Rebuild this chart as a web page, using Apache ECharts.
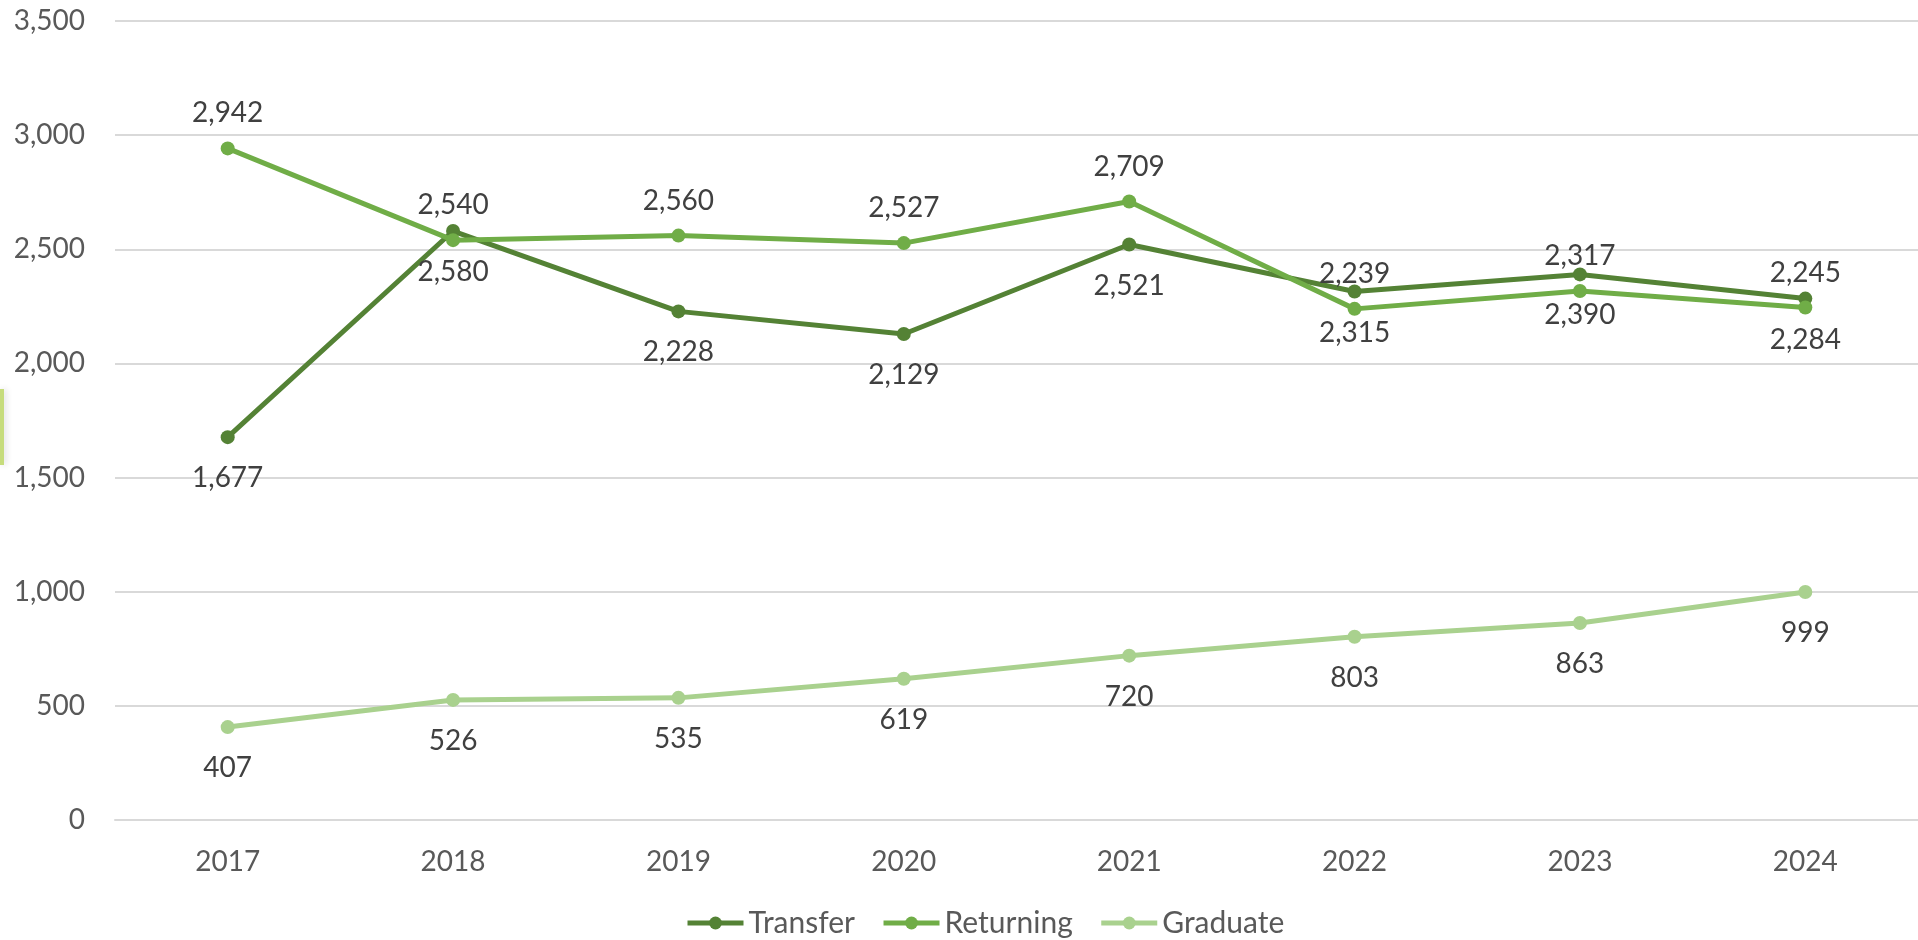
<!DOCTYPE html>
<html>
<head>
<meta charset="utf-8">
<script src="https://cdn.jsdelivr.net/npm/echarts@6/dist/echarts.min.js"></script>
<style>
html,body{margin:0;padding:0;background:#fff;}
#chart{width:1918px;height:940px;}
</style>
</head>
<body>
<div id="chart"></div>
<script>
const years = ['2017','2018','2019','2020','2021','2022','2023','2024'];
const transfer = [1677, 2580, 2228, 2129, 2521, 2315, 2390, 2284];
const returning = [2942, 2540, 2560, 2527, 2709, 2239, 2317, 2245];
const graduate = [407, 526, 535, 619, 720, 803, 863, 999];
const yTicks = {min: 0, max: 3500, interval: 500};

const FONT = 'Lato';
const fmt = v => Number(v).toLocaleString('en-US');

function makeSeries(name, data, color, pos, dist) {
  return {
    name: name,
    type: 'line',
    data: data,
    symbol: 'circle',
    symbolSize: 14,
    lineStyle: {color: color, width: 5},
    itemStyle: {color: color},
    label: {
      show: true,
      position: pos,
      distance: dist,
      color: '#404040',
      fontFamily: FONT,
      fontSize: 28,
      formatter: p => fmt(p.value)
    },
    emphasis: {disabled: true},
    animation: false
  };
}

const chart = echarts.init(document.getElementById('chart'));
chart.setOption({
  backgroundColor: '#ffffff',
  animation: false,
  grid: {left: 115, top: 21, width: 1820, height: 799, containLabel: false},
  legend: {
    left: 680,
    top: 903,
    itemWidth: 56,
    itemHeight: 16,
    itemGap: 26,
    lineStyle: {width: 5},
    textStyle: {color: '#595959', fontFamily: FONT, fontSize: 30},
    data: ['Transfer', 'Returning', 'Graduate']
  },
  xAxis: {
    type: 'category',
    data: years,
    boundaryGap: true,
    axisLine: {show: true, lineStyle: {color: '#d9d9d9', width: 2}},
    axisTick: {show: false},
    axisLabel: {color: '#595959', fontFamily: FONT, fontSize: 28, margin: 28},
    splitLine: {show: false}
  },
  yAxis: {
    type: 'value',
    min: yTicks.min,
    max: yTicks.max,
    interval: yTicks.interval,
    axisLine: {show: false},
    axisTick: {show: false},
    axisLabel: {color: '#595959', fontFamily: FONT, fontSize: 28, margin: 30, formatter: v => fmt(v)},
    splitLine: {show: true, lineStyle: {color: '#d9d9d9', width: 2}}
  },
  graphic: [{
    type: 'rect',
    shape: {x: 0, y: 389, width: 4, height: 76},
    style: {fill: '#c6dc7c', shadowBlur: 6, shadowColor: 'rgba(0,0,0,0.15)', shadowOffsetX: 2},
    silent: true
  }],
  series: [
    makeSeries('Transfer', transfer, '#548235', 'bottom', 20),
    makeSeries('Returning', returning, '#70AD47', 'top', 14),
    makeSeries('Graduate', graduate, '#A9D18E', 'bottom', 20)
  ]
});
</script>
</body>
</html>
